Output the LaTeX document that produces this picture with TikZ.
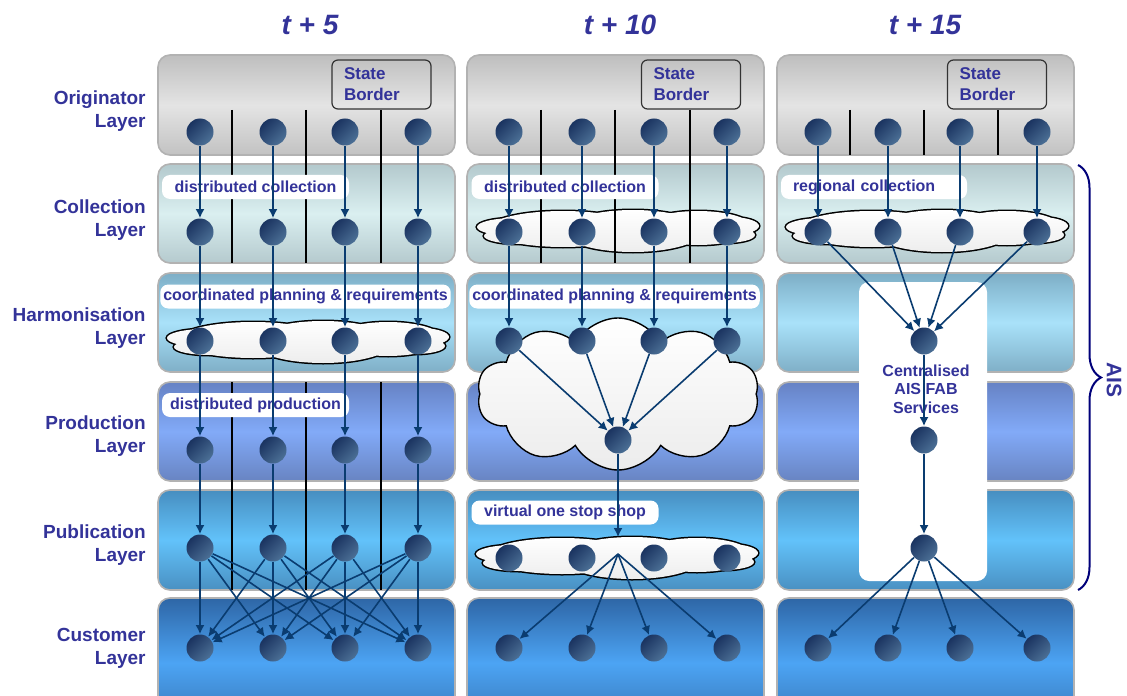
\documentclass[tikz,border=0pt]{standalone}
\usepackage{fontspec}
\setmainfont{Liberation Sans}
\usetikzlibrary{arrows.meta,positioning,shapes.symbols,decorations.pathreplacing}
\definecolor{inkblue}{HTML}{333399}
\definecolor{linkblue}{HTML}{0A3C70}
\definecolor{dotdark}{HTML}{1A3360}
\definecolor{dotlight}{HTML}{4C7096}
\definecolor{bracenavy}{HTML}{00007A}
\definecolor{origtop}{HTML}{BEBEBE}
\definecolor{origmid}{HTML}{E4E4E4}
\definecolor{origbot}{HTML}{C2C2C2}
\definecolor{colltop}{HTML}{B3C9CD}
\definecolor{collmid}{HTML}{DAEFF0}
\definecolor{collbot}{HTML}{B5CACE}
\definecolor{harmtop}{HTML}{7DAEC6}
\definecolor{harmmid}{HTML}{A9E2FA}
\definecolor{harmbot}{HTML}{7FAFC7}
\definecolor{prodtop}{HTML}{6682C4}
\definecolor{prodmid}{HTML}{82AAF8}
\definecolor{prodbot}{HTML}{6884C2}
\definecolor{pubtop}{HTML}{478EC0}
\definecolor{pubmid}{HTML}{62C2FA}
\definecolor{pubbot}{HTML}{4990C2}
\definecolor{custtop}{HTML}{2E66A6}
\definecolor{custmid}{HTML}{4CA4F4}
\definecolor{custbot}{HTML}{3674B4}
% lobes of a flat cloud, relative to its centre (px)
\newcommand\cloudlobes{
  (-55,-2) ellipse [x radius=75, y radius=18]
  (15,0) ellipse [x radius=70, y radius=21]
  (80,-3) ellipse [x radius=55, y radius=17]
  (-103,-4) ellipse [x radius=38, y radius=9]
  (-98,5) ellipse [x radius=36, y radius=8]
  (112,-5) ellipse [x radius=29, y radius=9]
  (107,4) ellipse [x radius=30, y radius=8]
}
\tikzset{
  layer/.style={draw=gray!60, line width=0.8pt, rounded corners=6pt},
  origfill/.style={layer, top color=origtop, bottom color=origbot, middle color=origmid},
  collfill/.style={layer, top color=colltop, bottom color=collbot, middle color=collmid},
  harmfill/.style={layer, top color=harmtop, bottom color=harmbot, middle color=harmmid},
  prodfill/.style={layer, top color=prodtop, bottom color=prodbot, middle color=prodmid},
  pubfill/.style={layer, top color=pubtop, bottom color=pubbot, middle color=pubmid},
  custfill/.style={layer, top color=custtop, bottom color=custbot, middle color=custmid},
  dot/.style={circle, inner sep=0pt, minimum size=13.5pt, top color=dotdark, bottom color=dotlight, shading angle=45},
  link/.style={linkblue, line width=0.8pt, -{Latex[length=4.5pt,width=4.5pt]}},
  border/.style={black, line width=0.6pt},
  tag/.style={fill=white, rounded corners=4pt, text=inkblue, font=\bfseries\fontsize{8}{9.5}\selectfont,
    minimum width=93.5pt, minimum height=12pt, inner xsep=1.5pt, inner ysep=0pt},
  flatcloud/.pic={
    \draw[black, line width=1.5pt] \cloudlobes;
    \shade[top color=white, bottom color=gray!14] \cloudlobes;
  },
  layerlabel/.style={anchor=east, align=right, inner sep=0pt, text=inkblue, font=\bfseries\fontsize{9.5}{11.5}\selectfont},
  stateborder/.style={draw=black!80, line width=0.6pt, rounded corners=3pt, minimum height=24.5pt,
    text width=37.5pt, inner xsep=6pt, align=left, text=inkblue, font=\bfseries\fontsize{8.5}{10.5}\selectfont},
  period/.style={text=inkblue, font=\bfseries\itshape\fontsize{14}{16}\selectfont}
}
\begin{document}
\begin{tikzpicture}[x=0.5pt, y=-0.5pt]
  \clip (0,0) rectangle (1127,695);

  % --- layer bands ---
  \foreach \dx in {0,309,619}{
    \foreach \ly/\lh/\ls in {55/100/origfill,164/99/collfill,273/99/harmfill,382/99/prodfill,490/100/pubfill,598/130/custfill}
      \draw[\ls] (158+\dx,\ly) rectangle ++(297,\lh);
  }

  % --- clouds ---
  \pic (aharmcloud) at (308,342) {flatcloud};
  \pic (bcollcloud) at (618,231) {flatcloud};
  \pic (bpubcloud) at (617,558) {flatcloud};
  \pic (ccollcloud) at (927,231) {flatcloud};
  \node[cloud, cloud puffs=10, cloud puff arc=120, aspect=1.9, draw=black, line width=0.7pt,
    top color=white, bottom color=gray!15, minimum width=141pt, minimum height=76pt, inner sep=0pt]
    (bprodcloud) at (618,394) {};

  % --- state borders ---
  \foreach \bx in {232,306,381}{
    \draw[border] (\bx,110) -- (\bx,263);
    \draw[border] (\bx,382) -- (\bx,590);
    \draw[border] (\bx+309,110) -- (\bx+309,263);
  }
  \foreach \bx in {850,924,998}
    \draw[border] (\bx,110) -- (\bx,155);
  \node[stateborder] (sba) at (381.5,84.5) {State\\Border};
  \node[stateborder] (sbb) at (691,84.5) {State\\Border};
  \node[stateborder] (sbc) at (997,84.5) {State\\Border};

  % --- centralised services ---
  \fill[white, rounded corners=5pt] (859,282) rectangle (987,581);
  \node[text=inkblue, align=center, font=\bfseries\fontsize{8}{9.25}\selectfont] (cservices) at (926,389)
    {Centralised\\AIS FAB\\Services};

  % --- tags ---
  \node[tag] (adcoll) at (255.5,187) {distributed collection};
  \node[tag] (aplan) at (305.5,296.5) {coordinated planning \& requirements};
  \node[tag] (adprod) at (255.5,405) {distributed production};
  \node[tag] (bdcoll) at (565,187) {distributed collection};
  \node[tag] (bplan) at (614.5,296.5) {coordinated planning \& requirements};
  \node[tag] (bshop) at (565,512.5) {virtual one stop shop};
  \node[tag, text width=81pt, inner xsep=6pt, minimum width=0pt, align=left] (crcoll) at (874,187) {regional collection};

  % --- nodes ---
  \foreach \i/\x in {1/200,2/273,3/345,4/418}{
    \node[dot] (aorig\i) at (\x,132) {};
    \node[dot] (acoll\i) at (\x,232) {};
    \node[dot] (aharm\i) at (\x,341) {};
    \node[dot] (aprod\i) at (\x,450) {};
    \node[dot] (apub\i) at (\x,548) {};
    \node[dot] (acust\i) at (\x,648) {};
  }
  \foreach \i/\x in {1/509,2/582,3/654,4/727}{
    \node[dot] (borig\i) at (\x,132) {};
    \node[dot] (bcoll\i) at (\x,232) {};
    \node[dot] (bharm\i) at (\x,341) {};
    \node[dot] (bpub\i) at (\x,558) {};
    \node[dot] (bcust\i) at (\x,648) {};
  }
  \node[dot] (bprod) at (618,440) {};
  \coordinate (bpubin) at (618,537);
  \coordinate (bpubout) at (618,554);
  \foreach \i/\x in {1/818,2/888,3/960,4/1037}{
    \node[dot] (corig\i) at (\x,132) {};
    \node[dot] (ccoll\i) at (\x,232) {};
    \node[dot] (ccust\i) at (\x,648) {};
  }
  \node[dot] (charm) at (924,341) {};
  \node[dot] (cprod) at (924,440) {};
  \node[dot] (cpub) at (924,548) {};

  % --- links ---
  \foreach \i in {1,...,4}{
    \draw[link] (aorig\i) -- (acoll\i);
    \draw[link] (acoll\i) -- (aharm\i);
    \draw[link] (aharm\i) -- (aprod\i);
    \draw[link] (aprod\i) -- (apub\i);
    \foreach \j in {1,...,4}
      \draw[link] (apub\i) -- (acust\j);
    \draw[link] (borig\i) -- (bcoll\i);
    \draw[link] (bcoll\i) -- (bharm\i);
    \draw[link] (bharm\i) -- (bprod);
    \draw[link] (bpubout) -- (bcust\i);
    \draw[link] (corig\i) -- (ccoll\i);
    \draw[link] (ccoll\i) -- (charm);
    \draw[link] (cpub) -- (ccust\i);
  }
  \draw[link] (bprod) -- (bpubin);
  \draw[link] (charm) -- (cprod);
  \draw[link] (cprod) -- (cpub);

  % --- layer names ---
  \node[layerlabel] (lorig) at (146,111) {Originator\\Layer};
  \node[layerlabel] (lcoll) at (146,220) {Collection\\Layer};
  \node[layerlabel] (lharm) at (146,328.5) {Harmonisation\\Layer};
  \node[layerlabel] (lprod) at (146,436.5) {Production\\Layer};
  \node[layerlabel] (lpub) at (146,545.5) {Publication\\Layer};
  \node[layerlabel] (lcust) at (146,648.5) {Customer\\Layer};

  % --- periods ---
  \node[period] (ta) at (310,25) {t + 5};
  \node[period] (tb) at (620,25) {t + 10};
  \node[period] (tc) at (925,25) {t + 15};

  % --- AIS brace ---
  \coordinate (aistop) at (1078,165);
  \coordinate (aisbot) at (1078,590);
  \draw[bracenavy, line width=1pt, decorate, decoration={brace, amplitude=11.5pt}] (aistop) -- (aisbot);
  \node[rotate=-90, text=inkblue, font=\bfseries\fontsize{10.5}{12}\selectfont] (aislabel) at (1114,380) {AIS};
\end{tikzpicture}
\end{document}
